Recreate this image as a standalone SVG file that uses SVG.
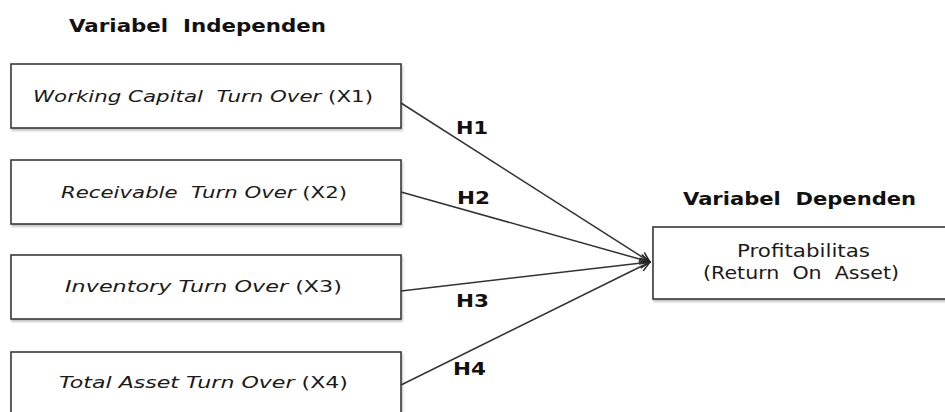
<svg xmlns="http://www.w3.org/2000/svg" width="945" height="412" viewBox="0 0 945 412">
<style>
.box{fill:#fff;stroke:#3a3a3a;stroke-width:1.6;filter:url(#sh)}
.t{font-family:"DejaVu Sans",Verdana,sans-serif;font-size:16.5px;fill:#1a1a1a;white-space:pre}
.d{font-family:"DejaVu Sans",Verdana,sans-serif;font-size:17.5px;fill:#1a1a1a;white-space:pre}
.i{font-style:italic}
.h{font-family:"DejaVu Sans",Verdana,sans-serif;font-size:18px;font-weight:bold;fill:#111;white-space:pre}
.c{fill:none;stroke:#333;stroke-width:1.5;marker-end:url(#ar)}
</style>
<defs>
<filter id="sh" x="-5%" y="-10%" width="110%" height="130%">
<feDropShadow dx="1" dy="2" stdDeviation="1.2" flood-color="#000" flood-opacity="0.25"/>
</filter>
<marker id="ar" viewBox="0 0 12 12" refX="11" refY="6" markerWidth="12" markerHeight="12" markerUnits="userSpaceOnUse" orient="auto">
<path d="M1,1 L11,6 L1,11" fill="none" stroke="#222" stroke-width="1.5"/>
</marker>
</defs>
<text class="h" x="69" y="32" textLength="257" lengthAdjust="spacingAndGlyphs">Variabel  Independen</text>
<text class="h" x="683" y="205" textLength="233" lengthAdjust="spacingAndGlyphs">Variabel  Dependen</text>
<g id="x1">
<rect class="box" x="11" y="64" width="390" height="64"/>
<text class="t" x="33" y="102" textLength="340" lengthAdjust="spacingAndGlyphs"><tspan class="i">Working Capital  Turn Over</tspan> (X1)</text>
</g>
<g id="x2">
<rect class="box" x="11" y="160" width="390" height="64"/>
<text class="t" x="61" y="198" textLength="286" lengthAdjust="spacingAndGlyphs"><tspan class="i">Receivable  Turn Over</tspan> (X2)</text>
</g>
<g id="x3">
<rect class="box" x="11" y="255" width="390" height="64"/>
<text class="t" x="65" y="292" textLength="277" lengthAdjust="spacingAndGlyphs"><tspan class="i">Inventory Turn Over</tspan> (X3)</text>
</g>
<g id="x4">
<rect class="box" x="11" y="352" width="390" height="80"/>
<text class="t" x="59" y="388" textLength="289" lengthAdjust="spacingAndGlyphs"><tspan class="i">Total Asset Turn Over</tspan> (X4)</text>
</g>
<g id="y">
<rect class="box" x="653" y="227" width="320" height="72"/>
<text class="d" x="737" y="257" textLength="133" lengthAdjust="spacingAndGlyphs">Profitabilitas</text>
<text class="d" x="703" y="279" textLength="196" lengthAdjust="spacingAndGlyphs">(Return  On  Asset)</text>
</g>
<g id="connectors">
<line class="c" x1="401" y1="103" x2="650" y2="262"/>
<line class="c" x1="401" y1="192" x2="650" y2="262"/>
<line class="c" x1="401" y1="291" x2="650" y2="262"/>
<line class="c" x1="401" y1="385" x2="650" y2="262"/>
<text class="h" x="456" y="134" textLength="32" lengthAdjust="spacingAndGlyphs">H1</text>
<text class="h" x="457" y="204" textLength="33" lengthAdjust="spacingAndGlyphs">H2</text>
<text class="h" x="456" y="307" textLength="33" lengthAdjust="spacingAndGlyphs">H3</text>
<text class="h" x="453" y="375" textLength="33" lengthAdjust="spacingAndGlyphs">H4</text>
</g>
</svg>
